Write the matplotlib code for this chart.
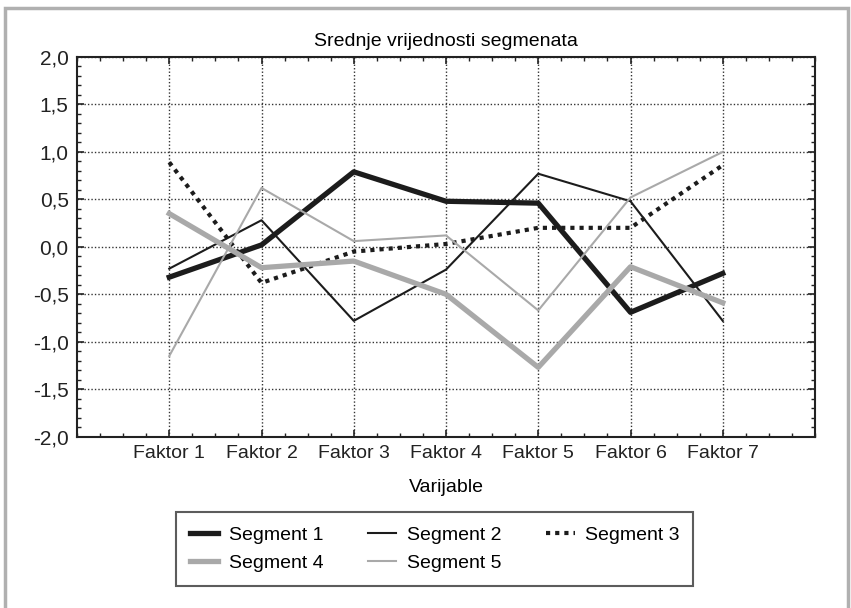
import matplotlib.pyplot as plt
from matplotlib.ticker import MultipleLocator, FuncFormatter
from matplotlib.patches import Rectangle

plt.rcParams['font.family'] = ['Liberation Sans', 'DejaVu Sans']

faktori = ['Faktor 1', 'Faktor 2', 'Faktor 3', 'Faktor 4', 'Faktor 5', 'Faktor 6', 'Faktor 7']
seg1 = [-0.32, 0.02, 0.79, 0.48, 0.46, -0.69, -0.28]
seg2 = [-0.23, 0.28, -0.78, -0.24, 0.77, 0.48, -0.78]
seg3 = [0.89, -0.38, -0.05, 0.03, 0.20, 0.20, 0.86]
seg4 = [0.35, -0.22, -0.15, -0.50, -1.27, -0.21, -0.59]
seg5 = [-1.15, 0.62, 0.06, 0.12, -0.67, 0.52, 1.00]

x = list(range(1, len(faktori) + 1))
crna = '#1c1c1c'
siva = '#a9a9a9'

fig = plt.figure(figsize=(8.51, 6.08), dpi=100)
ax = fig.add_axes([0.0905, 0.2818, 0.8672, 0.6245])

l1, = ax.plot(x, seg1, color=crna, lw=3.8, label='Segment 1')
l2, = ax.plot(x, seg2, color=crna, lw=1.5, label='Segment 2')
l3, = ax.plot(x, seg3, color=crna, lw=3.0, ls=(0, (1, 1.2)), label='Segment 3')
l4, = ax.plot(x, seg4, color=siva, lw=3.8, label='Segment 4')
l5, = ax.plot(x, seg5, color=siva, lw=1.5, label='Segment 5')

ax.set_xlim(0, 8)
ax.set_ylim(-2, 2)
ax.set_xticks(x)
ax.set_xticklabels(faktori, fontsize=14)
ax.xaxis.set_minor_locator(MultipleLocator(0.25))
ax.yaxis.set_major_locator(MultipleLocator(0.5))
ax.yaxis.set_minor_locator(MultipleLocator(0.1))
ax.yaxis.set_major_formatter(FuncFormatter(lambda v, p: ('%.1f' % v).replace('.', ',')))
for t in ax.get_yticklabels():
    t.set_fontsize(15)
ax.tick_params(which='both', direction='in', top=True, right=True, colors='#222222')
ax.tick_params(which='major', length=5, width=1.2, pad=6)
ax.tick_params(which='minor', length=3, width=1)
ax.grid(True, which='major', color='#333333', ls=(0, (1, 1.5)), lw=1.0)
for s in ax.spines.values():
    s.set_linewidth(1.5)
    s.set_color('#222222')

ax.set_title('Srednje vrijednosti segmenata', fontsize=14, pad=8)
ax.set_xlabel('Varijable', fontsize=14, labelpad=12)

leg = fig.legend([l1, l4, l2, l5, l3],
                 ['Segment 1', 'Segment 4', 'Segment 2', 'Segment 5', 'Segment 3'],
                 ncol=3, loc='center', bbox_to_anchor=(0.511, 0.097),
                 fontsize=14, frameon=True, fancybox=False, edgecolor='#333333',
                 handlelength=1.45, handletextpad=0.55, columnspacing=2.3,
                 borderpad=0.7, labelspacing=0.55, borderaxespad=0)
leg.get_frame().set_linewidth(1.5)

fig.patches.append(Rectangle((5 / 851, -0.02), 843 / 851, 1 - 8 / 608 + 0.02,
                             transform=fig.transFigure, fill=False,
                             edgecolor='#b0b0b0', lw=2.5))

fig.savefig('out.png', dpi=100)
